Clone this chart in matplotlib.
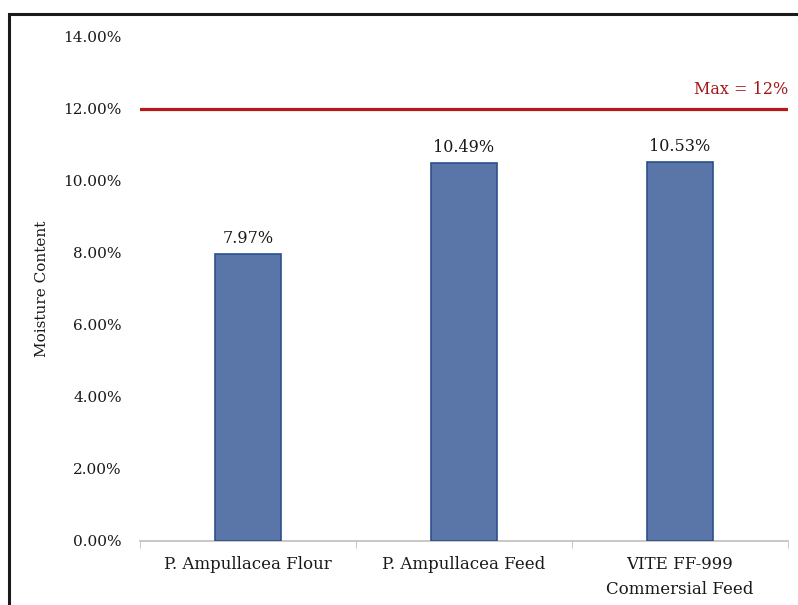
import matplotlib
matplotlib.use('Agg')
import matplotlib.pyplot as plt
from matplotlib.patches import Rectangle

plt.rcParams['font.family'] = ['DejaVu Serif']

# data
categories = ['P. Ampullacea Flour', 'P. Ampullacea Feed', 'VITE FF-999\nCommersial Feed']
moisture = [7.97, 10.49, 10.53]
max_limit = 12.0
yticks = [0, 2, 4, 6, 8, 10, 12, 14]

fig = plt.figure(figsize=(7.98, 6.05), dpi=100)
ax = fig.add_axes([140/798, 64/605, 648/798, 504/605])

x = list(range(len(categories)))
ax.bar(x, moisture, width=0.305, color='#5a76a8', edgecolor='#2d4f8a', linewidth=1.2, zorder=3)

for xi, v in zip(x, moisture):
    ax.annotate(f'{v:.2f}%', xy=(xi, v), xytext=(0, 5), textcoords='offset points',
                ha='center', va='bottom', fontsize=11.5, color='#1a1a1a')

# max line
ax.axhline(max_limit, color='#b3191c', linewidth=2.3, zorder=4)
ax.text(2.5, max_limit + 0.3, f'Max = {max_limit:.0f}%', color='#a3171a', fontsize=11.5,
        ha='right', va='bottom', clip_on=False)

ax.set_xlim(-0.5, 2.5)
ax.set_ylim(0, 14)
ax.set_yticks(yticks)
ax.set_yticklabels([f'{t:.2f}%' for t in yticks], fontsize=11, color='#1a1a1a')
ax.set_xticks(x)
ax.set_xticklabels(categories, fontsize=12, color='#1a1a1a', linespacing=1.6)
ax.tick_params(axis='x', length=0, pad=11)
ax.set_xticks([-0.5, 0.5, 1.5, 2.5], minor=True)
ax.tick_params(axis='x', which='minor', length=5, color='#bfbfbf', direction='out')
ax.tick_params(axis='y', length=0, pad=13)

for s in ['top', 'right', 'left']:
    ax.spines[s].set_visible(False)
ax.spines['bottom'].set_color('#bfbfbf')
ax.spines['bottom'].set_linewidth(1.2)

ax.set_ylabel('Moisture Content', fontsize=11, color='#1a1a1a')
ax.yaxis.set_label_coords(-0.140, 0.5)

# outer frame around the chart
fig.patches.append(Rectangle((8.5/798, -0.1), 1.2, (605-14)/605 + 0.1, transform=fig.transFigure,
                             fill=False, edgecolor='#1a1a1a', linewidth=2.2))

fig.savefig('out.png', dpi=100)
